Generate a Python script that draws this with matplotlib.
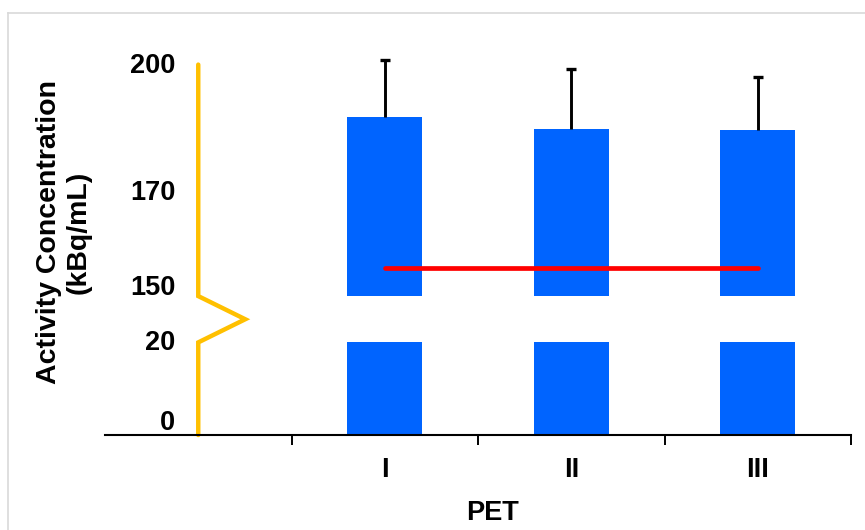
import numpy as np
import matplotlib
matplotlib.use("Agg")
import matplotlib.pyplot as plt
from matplotlib.lines import Line2D

plt.rcParams['font.family'] = ['Liberation Sans', 'DejaVu Sans']
plt.rcParams['font.weight'] = 'bold'

# data
groups = ['I', 'II', 'III']
means = np.array([188.7, 186.0, 185.9])
errs = np.array([12.2, 13.0, 11.4])
ref_level = 156.0
ytick_vals = [0, 20, 150, 170, 200]

# broken axis: 0-20 drawn as is, 150-200 shifted down to sit right above it
low_top = 20
high_bot = 150
shift = high_bot - 30


def to_disp(v):
    v = np.asarray(v, dtype=float)
    return np.where(v >= high_bot, v - shift, v)


blue = '#0064FF'
gold = '#FFC000'

fig = plt.figure(figsize=(8.65, 5.30), dpi=100)
ax = fig.add_axes([105 / 865, 95 / 530, 746 / 865, 85 * 4.63 / 530])
ax.set_xlim(-0.5, 3.5)
ax.set_ylim(0, 85)

x = np.arange(1, len(groups) + 1)
w = 0.40
ax.bar(x, np.minimum(means, low_top), width=w, color=blue, zorder=2)
ax.bar(x, to_disp(means) - to_disp(high_bot), bottom=to_disp(high_bot),
       width=w, color=blue, zorder=2)
eb = ax.errorbar(x, to_disp(means), yerr=[np.zeros_like(errs), errs],
                 fmt='none', ecolor='black', elinewidth=2.1, capsize=3.8,
                 capthick=2.4, zorder=3)
# only the upper cap, like the reference
eb[1][0].remove()

# reference level
ax.plot([x[0], x[-1]], [to_disp(ref_level)] * 2, color='red', lw=3.4,
        solid_capstyle='round', zorder=4)

# yellow value axis with a break zig-zag
zx = [0, 0, 0.252, 0, 0]
zy = [0, low_top, 25, to_disp(high_bot), to_disp(200)]
ax.plot(zx, zy, color=gold, lw=3.2, solid_capstyle='round',
        solid_joinstyle='miter', zorder=1, clip_on=False)

# value labels beside the yellow axis (small nudges as in the reference)
nudge = [12, -1, 8, 11, -1]
for v, dy in zip(ytick_vals, nudge):
    ax.annotate(str(v), xy=(0, float(to_disp(v))), xytext=(-23, dy),
                textcoords='offset pixels', ha='right', va='center',
                fontsize=19.5, fontweight='bold', annotation_clip=False)

ax.set_yticks([])
for s in ['left', 'right', 'top']:
    ax.spines[s].set_visible(False)
ax.spines['bottom'].set_linewidth(1.5)
ax.spines['bottom'].set_color('black')

ax.set_xticks([0.5, 1.5, 2.5, 3.5], labels=[''] * 4)
ax.tick_params(axis='x', which='major', direction='out', length=7,
               width=1.4, color='black')
ax.set_xticks(x, labels=groups, minor=True)
ax.tick_params(axis='x', which='minor', length=0, pad=16, labelsize=19.5)

ax.set_xlabel('PET', fontsize=19.5, fontweight='bold')
ax.xaxis.set_label_coords((492 - 105) / 746, -(500 - 435) / (85 * 4.63))

fig.text(63.5 / 865, 1 - 232 / 530, 'Activity Concentration\n(kBq/mL)',
         rotation=90, ha='center', va='center', multialignment='center',
         fontsize=20.5, fontweight='bold')

# light grey chart-area border (left and top edges visible)
fig.add_artist(Line2D([8 / 865, 8 / 865], [0, 1 - 13 / 530],
                      color='#D9D9D9', lw=1.2))
fig.add_artist(Line2D([8 / 865, 1], [1 - 13 / 530, 1 - 13 / 530],
                      color='#D9D9D9', lw=1.2))

fig.savefig('out.png', dpi=100)
